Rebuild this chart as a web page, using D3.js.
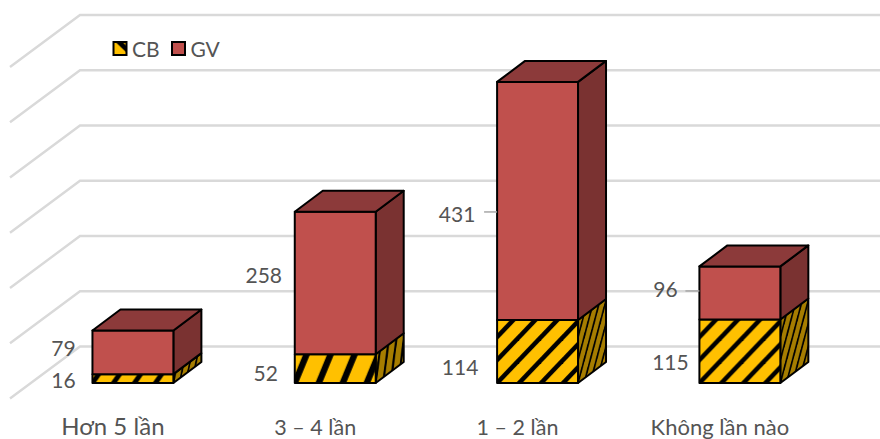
<!DOCTYPE html>
<html>
<head>
<meta charset="utf-8">
<script src="https://cdn.jsdelivr.net/npm/d3@7"></script>
<style>
html,body{margin:0;padding:0;background:#fff;overflow:hidden}
svg{display:block}
text{font-family:Lato,"Noto Sans",sans-serif;fill:#545454}
</style>
</head>
<body>
<svg id="chart" width="880" height="439"></svg>
<script>
// Survey counts by category, stacked bottom to top
const categories = ["Hơn 5 lần", "3 – 4 lần", "1 – 2 lần", "Không lần nào"];
const seriesNames = ["CB", "GV"];
const cbValues = [16, 52, 114, 115];
const gvValues = [79, 258, 431, 96];
const gridTicks = [0, 100, 200, 300, 400, 500, 600];

// Label placement, kept apart from the values: [dx from bar left, dy from segment middle]
const cbLabelShift = [[-29, 2], [-29, 5], [-37, 16], [-29, 11]];
const gvLabelShift = [[-29, -4], [-31, -7], [-40, 14], [-34, -3]];
const leaderLines = {"2": [-13, 11], "3": [-14, -2]};
const categoryFontSize = [24, 21.5, 21.5, 22];
const categoryBaseline = [434.5, 434.5, 434.5, 434.5];
// Hatch tile size on each bar's CB segment: [width, height]
const hatchTiles = [[21, 30], [24, 58], [22, 23], [22, 23]];

const svg = d3.select("#chart");

const x = d3.scaleBand().domain(categories).range([-8.7, 881.5])
  .paddingInner(0.6).paddingOuter(0.5);
const y = d3.scaleLinear().domain([0, 600]).range([383, 51.5]);

// Depth of the bars and of the floor/wall planes
const barDepth = {dx: 28, dy: -21};
const wall = {dx: 80, dy: -36.5, floorDx: -70, floorDy: 52};

const GOLD = "#ffc000", GOLD_SIDE = "#a67d00";
const RED = "#c0504d", RED_TOP = "#8c3a3a", RED_SIDE = "#7a3231";

// Wall and side gridlines
const grid = svg.append("g").attr("fill", "none")
  .attr("stroke", "#d9d9d9").attr("stroke-width", 2.4);
grid.selectAll("polyline").data(gridTicks).join("polyline")
  .attr("points", d => {
    const yb = y(d) + wall.dy;
    return [[wall.dx + wall.floorDx, yb + wall.floorDy], [wall.dx, yb], [880, yb]].join(" ");
  });

// Diagonal hatch: one band per tile, rising left to right through the tile corners
const defs = svg.append("defs");
function hatch(id, bg, tw, th, transform) {
  const p = defs.append("pattern").attr("id", id)
    .attr("patternUnits", "userSpaceOnUse")
    .attr("width", tw).attr("height", th)
    .attr("patternTransform", transform);
  p.append("rect").attr("width", tw).attr("height", th).attr("fill", bg);
  const half = tw / 7;
  [-1, 0, 1].forEach(k => {
    p.append("polygon").attr("fill", "#000").attr("points", [
      [k * tw - half, th], [k * tw + half, th],
      [(k + 1) * tw + half, 0], [(k + 1) * tw - half, 0]
    ].join(" "));
  });
}
categories.forEach((c, i) => {
  const x0 = x(c), w = x.bandwidth();
  const sx = barDepth.dx / w, sy = barDepth.dy / w;
  const [tw, th] = hatchTiles[i];
  hatch("hatchF" + i, GOLD, tw, th, `translate(${x0},${y(0)})`);
  hatch("hatchS" + i, GOLD_SIDE, tw, th,
    `translate(${x0 + w},${y(0)})matrix(${sx},${sy},0,1,0,0)`);
});

// Legend key hatch: a single falling band
const keyPattern = defs.append("pattern").attr("id", "hatchKey")
  .attr("patternUnits", "objectBoundingBox").attr("patternContentUnits", "objectBoundingBox")
  .attr("width", 1).attr("height", 1);
keyPattern.append("rect").attr("width", 1).attr("height", 1).attr("fill", GOLD);
keyPattern.append("polygon").attr("fill", "#000")
  .attr("points", "0.15,0 0.7,0 1,0.3 1,0.8");

// Stacked 3D bars
const bars = svg.append("g").attr("stroke", "#000").attr("stroke-width", 2)
  .attr("stroke-linejoin", "round");
categories.forEach((c, i) => {
  const x0 = x(c), w = x.bandwidth();
  const {dx, dy} = barDepth;
  const yBase = y(0), yMid = y(cbValues[i]), yTop = y(cbValues[i] + gvValues[i]);
  const g = bars.append("g");
  const poly = (pts, fill) => g.append("polygon").attr("points", pts.join(" ")).attr("fill", fill);
  poly([[x0 + w, yBase], [x0 + w + dx, yBase + dy], [x0 + w + dx, yMid + dy], [x0 + w, yMid]], `url(#hatchS${i})`);
  poly([[x0, yBase], [x0 + w, yBase], [x0 + w, yMid], [x0, yMid]], `url(#hatchF${i})`);
  poly([[x0 + w, yMid], [x0 + w + dx, yMid + dy], [x0 + w + dx, yTop + dy], [x0 + w, yTop]], RED_SIDE);
  poly([[x0, yMid], [x0 + w, yMid], [x0 + w, yTop], [x0, yTop]], RED);
  poly([[x0, yTop], [x0 + w, yTop], [x0 + w + dx, yTop + dy], [x0 + dx, yTop + dy]], RED_TOP);
});

// Value labels with their leader lines, then category names
categories.forEach((c, i) => {
  const x0 = x(c);
  const cbMid = (y(0) + y(cbValues[i])) / 2;
  const gvMid = (y(cbValues[i]) + y(cbValues[i] + gvValues[i])) / 2;
  const label = (v, mid, s) => svg.append("text")
    .attr("x", x0 + s[0]).attr("y", mid + s[1]).attr("dy", "0.35em")
    .attr("text-anchor", "middle").attr("font-size", 21).text(v);
  label(cbValues[i], cbMid, cbLabelShift[i]);
  label(gvValues[i], gvMid, gvLabelShift[i]);
  if (leaderLines[i]) {
    svg.append("line")
      .attr("x1", x0 + leaderLines[i][0]).attr("x2", x0)
      .attr("y1", gvMid + leaderLines[i][1]).attr("y2", gvMid + leaderLines[i][1])
      .attr("stroke", "#a6a6a6").attr("stroke-width", 1.5);
  }
  svg.append("text")
    .attr("x", x0 + x.bandwidth() / 2 - 20)
    .attr("y", categoryBaseline[i]).attr("text-anchor", "middle")
    .attr("font-size", categoryFontSize[i]).text(c);
});

// Legend
const legendX = d3.scalePoint().domain(seriesNames).range([113.5, 172]);
const legend = svg.append("g");
seriesNames.forEach((n, i) => {
  legend.append("rect")
    .attr("x", legendX(n)).attr("y", 42).attr("width", 13).attr("height", 13)
    .attr("fill", i === 0 ? "url(#hatchKey)" : RED)
    .attr("stroke", "#000").attr("stroke-width", 2);
  legend.append("text").attr("x", legendX(n) + 18.5).attr("y", 56.5)
    .attr("font-size", 21).text(n);
});
</script>
</body>
</html>
